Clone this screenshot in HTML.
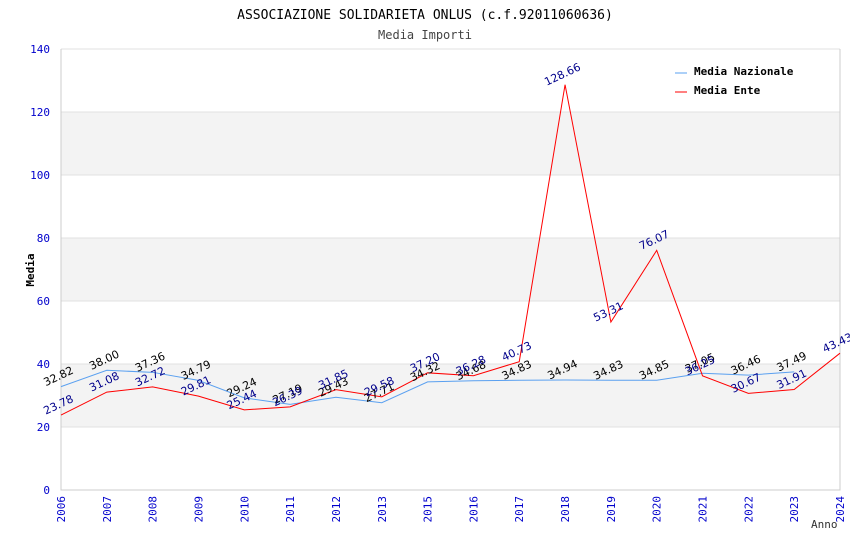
<!DOCTYPE html>
<html><head><meta charset="utf-8"><style>
body{margin:0;background:#fff;}
svg{display:block;font-family:"DejaVu Sans Mono","Liberation Mono",monospace;}
</style></head><body>
<svg id="c" width="850" height="550">
<text x="425" y="19" text-anchor="middle" font-size="13" fill="#000">ASSOCIAZIONE SOLIDARIETA ONLUS (c.f.92011060636)</text>
<text x="425" y="39" text-anchor="middle" font-size="12" fill="#444">Media Importi</text>
<text transform="translate(34,270) rotate(-90)" text-anchor="middle" font-size="11" font-weight="bold">Media</text>
<text x="811" y="528" font-size="11" fill="#333">Anno</text>
<g id="bands"></g><g id="grid"></g><g id="axes"></g><g id="lines"></g><g id="labels"></g>
<g>
<line x1="675" y1="73" x2="687" y2="73" stroke="#5aa0f0"/>
<text x="694" y="75" font-size="11" font-weight="bold">Media Nazionale</text>
<line x1="675" y1="92" x2="687" y2="92" stroke="#f00"/>
<text x="694" y="94" font-size="11" font-weight="bold">Media Ente</text>
</g>
</svg>
<script>
const categories=["2006","2007","2008","2009","2010","2011","2012","2013","2015","2016","2017","2018","2019","2020","2021","2022","2023","2024"];
const nazionale=[32.82,38.00,37.36,34.79,29.24,27.19,29.43,27.71,34.32,34.68,34.83,34.94,34.83,34.85,37.05,36.46,37.49,null];
const ente=[23.78,31.08,32.72,29.81,25.44,26.39,31.85,29.58,37.20,36.28,40.73,128.66,53.31,76.07,36.25,30.67,31.91,43.43];
const yTicks=[0,20,40,60,80,100,120,140];
const X0=61,X1=840,Y0=490,Y1=49,YMAX=140;
const NS="http://www.w3.org/2000/svg";
function x(i){return X0+i*(X1-X0)/(categories.length-1);}
function y(v){return Y0-v/YMAX*(Y0-Y1);}
function mk(p,t,a){const e=document.createElementNS(NS,t);for(const k in a)e.setAttribute(k,a[k]);document.getElementById(p).appendChild(e);return e;}
for(let i=0;i<yTicks.length-1;i++){
  if(i%2===1){const r=mk('bands','rect',{x:X0,y:y(yTicks[i+1]),width:X1-X0,height:y(yTicks[i])-y(yTicks[i+1]),fill:'#f3f3f3'});
  
  }
}
yTicks.forEach(t=>{
  const l=mk('grid','line',{x1:X0,x2:X1,y1:y(t),y2:y(t),stroke:'#e0e0e0'});
  
  
  const tx=mk('axes','text',{x:X0-11,y:y(t)+4,'text-anchor':'end','font-size':11,fill:'#0000cc'});
  tx.textContent=t;
  
  
});
const ax=mk('axes','path',{d:`M${X0},${Y1}V${Y0}H${X1}V${Y1}`,fill:'none',stroke:'#ccc'});


categories.forEach((c,i)=>{
  const t=mk('axes','text',{transform:`translate(${x(i)+4},${Y0+6}) rotate(-90)`,'text-anchor':'end','font-size':11,fill:'#0000cc'});
  t.textContent=c;
  
  
});
function series(vals,color,lc,name){
  let d='';vals.forEach((v,i)=>{if(v==null)return;d+=(d?'L':'M')+x(i)+','+y(v);});
  const p=mk('lines','path',{d,fill:'none',stroke:color,'stroke-width':1});
  
  
  vals.forEach((v,i)=>{if(v==null)return;
    const t=mk('labels','text',{transform:`translate(${x(i)-1},${y(v)-7}) rotate(-25)`,'text-anchor':'middle','font-size':11,fill:lc,'font-family':'DejaVu Sans, sans-serif'});
    t.textContent=v.toFixed(2);
    
    
  });
}
series(nazionale,'#5aa0f0','#000','nazionale');
series(ente,'#ff0000','#00008b','ente');
</script>
</body></html>
